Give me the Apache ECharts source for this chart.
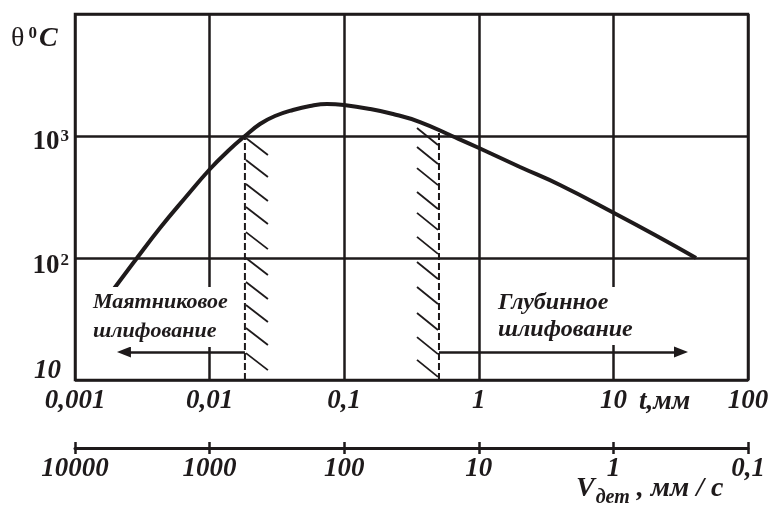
<!DOCTYPE html>
<html><head><meta charset="utf-8">
<script src="https://cdn.jsdelivr.net/npm/echarts@6/dist/echarts.min.js"></script>
<style>html,body{margin:0;padding:0;background:#fff}#c{width:774px;height:512px}</style>
</head><body><div id="c"></div>
<script>
// Curve: temperature θ (°C) vs depth t (mm)
const tValues     = [0.001915, 0.002888, 0.00428, 0.006566, 0.01007, 0.0137, 0.01832, 0.02368, 0.03061, 0.04165, 0.0557, 0.07452, 0.0997, 0.1555, 0.2305, 0.3659, 0.6324, 1.003, 2.023, 4.012, 10.1, 20.37, 41.1];
const thetaValues = [54.7, 100, 176.2, 310.3, 536.4, 753.4, 1000, 1254, 1458, 1634, 1762, 1830, 1795, 1665, 1515, 1302, 1000, 797, 557, 396.7, 233.8, 154.3, 100];

// Tick labels
const tTickLabels = {'-3':'0,001','-2':'0,01','-1':'0,1','0':'1','1':'10','2':'100'};
const vTickLabels = {'-1':'0,1','0':'1','1':'10','2':'100','3':'1000','4':'10000'};
const yTickValues = [10, 100, 1000];
const yTickBase   = ['10', '10', '10'];
const yTickSup    = ['', '2', '3'];

// Boundary (dashed) lines
const dashLeftT = 0.0183, dashLeftRange = [10, 1000];
const dashRightT = 0.506, dashRightRange = [10, 1060];
// Hatch positions (θ where each hatch touches the dashed line)
const hatchLeft  = [964, 635, 404, 262, 163, 100, 63.5, 41.2, 26.7, 16.6];
const hatchRight = [843, 589, 396, 252, 170, 108, 67.3, 42, 25.7, 16.3, 10.6];
// Arrows
const arrowLeft  = {from: 0.0183, to: 0.00231, theta: 16.96};
const arrowRight = {from: 0.506, to: 31.8, theta: 16.96};

const INK = '#1e1a1b';
const FONT = "'Liberation Serif','Times New Roman',serif";
const e10 = v => Math.round(Math.log10(v));

const chart = echarts.init(document.getElementById('c'), null, {renderer: 'canvas'});
const option = {
  animation: false,
  backgroundColor: '#fff',
  grid: [
    {left: 75, right: 26, top: 14, bottom: 132, show: true, borderColor: INK, borderWidth: 2.5, backgroundColor: 'transparent'},
    {left: 75, right: 26, top: 442, height: 12, show: false}
  ],
  xAxis: [
    {type: 'log', logBase: 10, min: 0.001, max: 100, gridIndex: 0,
     axisLine: {show: false}, axisTick: {show: false},
     splitLine: {show: true, lineStyle: {color: INK, width: 2.5}},
     axisLabel: {margin: 8, color: INK, fontFamily: FONT, fontSize: 27, fontWeight: 'bold', fontStyle: 'italic',
       formatter: v => tTickLabels[e10(v)] || ''}},
    {type: 'log', logBase: 10, min: 0.1, max: 10000, inverse: true, gridIndex: 1,
     axisLine: {show: true, onZero: true, lineStyle: {color: INK, width: 3}}, axisTick: {show: false},
     splitLine: {show: true, lineStyle: {color: INK, width: 2.5}},
     axisLabel: {margin: 2, color: INK, fontFamily: FONT, fontSize: 27, fontWeight: 'bold', fontStyle: 'italic',
       formatter: v => vTickLabels[e10(v)] || ''}}
  ],
  yAxis: [
    {type: 'log', logBase: 10, min: 10, max: 10000, gridIndex: 0,
     axisLine: {show: false}, axisTick: {show: false}, axisLabel: {show: false},
     splitLine: {show: true, lineStyle: {color: INK, width: 2.5}}},
    {type: 'value', min: -1, max: 1, gridIndex: 1, show: false, splitLine: {show: false}}
  ],
  series: [
    {type: 'line', xAxisIndex: 0, yAxisIndex: 0, smooth: 0.45, symbol: 'none', z: 5,
     lineStyle: {color: INK, width: 4}, data: tValues.map((t, i) => [t, thetaValues[i]])},
    {type: 'line', xAxisIndex: 0, yAxisIndex: 0, symbol: 'none', z: 4,
     lineStyle: {color: INK, width: 2, type: [7, 3]},
     data: dashLeftRange.map(v => [dashLeftT, v]),
     markLine: {silent: true, symbol: ['none', 'triangle'], symbolSize: [11, 14], label: {show: false},
       lineStyle: {color: INK, width: 2.5, type: 'solid'},
       data: [
         [{coord: [arrowLeft.from, arrowLeft.theta]}, {coord: [arrowLeft.to, arrowLeft.theta]}],
         [{coord: [arrowRight.from, arrowRight.theta]}, {coord: [arrowRight.to, arrowRight.theta]}]
       ]}},
    {type: 'line', xAxisIndex: 0, yAxisIndex: 0, symbol: 'none', z: 4,
     lineStyle: {color: INK, width: 2, type: [7, 3]},
     data: dashRightRange.map(v => [dashRightT, v])},
    {type: 'custom', xAxisIndex: 0, yAxisIndex: 0, z: 4,
     data: hatchLeft.map(v => [dashLeftT, v, 1]).concat(hatchRight.map(v => [dashRightT, v, -1])),
     renderItem: (params, api) => {
       const p = api.coord([api.value(0), api.value(1)]);
       const d = api.value(2);
       const shape = d > 0 ? {x1: p[0] + 1, y1: p[1], x2: p[0] + 23, y2: p[1] + 17}
                           : {x1: p[0] - 22, y1: p[1] - 17, x2: p[0] - 1, y2: p[1]};
       return {type: 'line', shape, style: {stroke: INK, lineWidth: 1.8}};
     }}
  ]
};
chart.setOption(option);

const yLabelOffset = [-9, 8, 6];
const yLabelRight  = [61, 69, 69];
const elements = yTickValues.map((v, i) => {
  const py = chart.convertToPixel({yAxisIndex: 0}, v);
  const italic = i === 0;
  return {type: 'text', x: yLabelRight[i], y: py + yLabelOffset[i], z: 50,
    style: {text: '{b|' + yTickBase[i] + '}' + (yTickSup[i] ? '{s|' + yTickSup[i] + '}' : ''),
      align: 'right', verticalAlign: 'middle', fill: INK,
      rich: {
        b: {fontFamily: FONT, fontSize: 27, fontWeight: 'bold', fontStyle: italic ? 'italic' : 'normal', lineHeight: 27, fill: INK},
        s: {fontFamily: FONT, fontSize: 17, fontWeight: 'bold', lineHeight: 17, verticalAlign: 'top', fill: INK, padding: [0, 0, 0, 1]}
      }}};
});
elements.push(
  {type: 'text', x: 11, y: 39, z: 50,
   style: {text: '{a|θ}{s|0}{c|C}', align: 'left', verticalAlign: 'middle', fill: INK,
     rich: {
       a: {fontFamily: FONT, fontSize: 28, lineHeight: 28, fill: INK, padding: [0, 4, 0, 0]},
       s: {fontFamily: FONT, fontSize: 17, fontWeight: 'bold', lineHeight: 17, verticalAlign: 'top', fill: INK, padding: [0, 2, 0, 0]},
       c: {fontFamily: FONT, fontSize: 28, fontWeight: 'bold', fontStyle: 'italic', lineHeight: 28, fill: INK}
     }}},
  {type: 'text', x: 639, y: 402, z: 50,
   style: {text: 't,мм', align: 'left', verticalAlign: 'middle', fill: INK,
     font: "italic bold 27px " + FONT}},
  {type: 'text', x: 576, y: 489, z: 50,
   style: {text: '{v|V}{d|дет}{r| , мм / с}', align: 'left', verticalAlign: 'middle', fill: INK,
     rich: {
       v: {fontFamily: FONT, fontSize: 28, fontWeight: 'bold', fontStyle: 'italic', lineHeight: 28, fill: INK},
       d: {fontFamily: FONT, fontSize: 20, fontWeight: 'bold', fontStyle: 'italic', lineHeight: 20, verticalAlign: 'bottom', fill: INK, padding: [0, 0, -5, 1]},
       r: {fontFamily: FONT, fontSize: 28, fontWeight: 'bold', fontStyle: 'italic', lineHeight: 28, fill: INK}
     }}},
  {type: 'text', x: 89, y: 287, z: 60,
   style: {text: 'Маятниковое\nшлифование', align: 'left', verticalAlign: 'top', fill: INK,
     font: "italic bold 22px " + FONT, lineHeight: 29, backgroundColor: '#fff', padding: [1, 4, 1, 4]}},
  {type: 'text', x: 494, y: 287, z: 60,
   style: {text: 'Глубинное\nшлифование', align: 'left', verticalAlign: 'top', fill: INK,
     font: "italic bold 24px " + FONT, lineHeight: 27, backgroundColor: '#fff', padding: [2, 4, 2, 4]}}
);
chart.setOption({graphic: {elements}});
</script>
</body></html>
